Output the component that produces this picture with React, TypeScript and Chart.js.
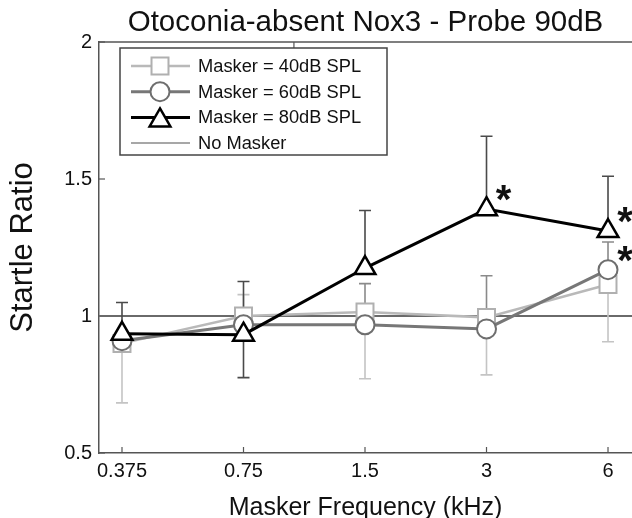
import React, { useEffect, useRef } from 'react';
import { Chart, registerables } from 'chart.js';

Chart.register(...registerables);

// ---- data ----
const freqs = [0.375, 0.75, 1.5, 3, 6];
const freqLabels = ['0.375', '0.75', '1.5', '3', '6'];
const yTicks = [0.5, 1, 1.5, 2];
const topTicks = [1];
const seriesLabels = ['Masker = 40dB SPL', 'Masker = 60dB SPL', 'Masker = 80dB SPL'];
const noMaskerLabel = 'No Masker';
const noMaskerLevel = 1;

const masker40 = [0.9, 1.0, 1.015, 0.995, 1.115];
const masker60 = [0.91, 0.968, 0.968, 0.953, 1.169];
const masker80 = [0.935, 0.932, 1.175, 1.39, 1.31];

// error bar end values (null = not drawn in that direction)
const err40Up = [null, 1.078, null, null, null];
const err40Down = [0.683, null, 0.771, 0.785, 0.906];
const err60Up = [null, null, 1.118, 1.147, 1.27];
const err60Down = [null, null, null, null, null];
const err80Up = [1.049, 1.126, 1.385, 1.656, 1.51];
const err80Down = [null, 0.775, null, null, null];

// significance markers
const sig40 = [false, false, false, false, false];
const sig60 = [false, false, false, false, true];
const sig80 = [false, false, false, true, true];

const X_MIN = 0.3289;
const X_MAX = 6.88;

const FONT = "'Liberation Sans', Arial, Helvetica, sans-serif";

const styles = [
  { line: '#b9b9b9', lw: 2.5, mark: '#b0b0b0', mw: 2, shape: 'rect', r: 12, err: '#c4c4c4' },
  { line: '#777777', lw: 3, mark: '#6e6e6e', mw: 2, shape: 'circle', r: 9.5, err: '#8a8a8a' },
  { line: '#000000', lw: 3, mark: '#000000', mw: 2.5, shape: 'triangle', r: 12, err: '#4a4a4a' },
];

const seriesValues = [masker40, masker60, masker80];
const errUp = [err40Up, err60Up, err80Up];
const errDown = [err40Down, err60Down, err80Down];
const sigs = [sig40, sig60, sig80];

function drawMarker(ctx: CanvasRenderingContext2D, shape: string, x: number, y: number, r: number) {
  ctx.beginPath();
  if (shape === 'rect') {
    const s = Math.SQRT1_2 * r;
    ctx.rect(x - s, y - s, 2 * s, 2 * s);
  } else if (shape === 'circle') {
    ctx.arc(x, y, r, 0, Math.PI * 2);
  } else {
    let rad = 0;
    ctx.moveTo(x + Math.sin(rad) * r, y - Math.cos(rad) * r);
    rad += (2 * Math.PI) / 3;
    ctx.lineTo(x + Math.sin(rad) * r, y - Math.cos(rad) * r);
    rad += (2 * Math.PI) / 3;
    ctx.lineTo(x + Math.sin(rad) * r, y - Math.cos(rad) * r);
    ctx.closePath();
  }
  ctx.fill();
  ctx.stroke();
}

const decorPlugin = {
  id: 'decor',
  beforeDatasetsDraw(chart: any) {
    const { ctx, chartArea: a, scales } = chart;
    const xs = scales.x;
    const ys = scales.y;
    ctx.save();
    // top frame line
    ctx.strokeStyle = '#555';
    ctx.lineWidth = 1.5;
    ctx.beginPath();
    ctx.moveTo(a.left, a.top);
    ctx.lineTo(a.right, a.top);
    ctx.stroke();
    // inward ticks
    ctx.lineWidth = 1.2;
    freqs.forEach((f) => {
      const px = xs.getPixelForValue(f);
      ctx.beginPath();
      ctx.moveTo(px, a.bottom);
      ctx.lineTo(px, a.bottom - 6);
      ctx.stroke();
    });
    topTicks.forEach((f) => {
      const px = xs.getPixelForValue(f);
      ctx.beginPath();
      ctx.moveTo(px, a.top);
      ctx.lineTo(px, a.top + 6);
      ctx.stroke();
    });
    yTicks.forEach((v) => {
      const py = ys.getPixelForValue(v);
      ctx.beginPath();
      ctx.moveTo(a.left, py);
      ctx.lineTo(a.left + 6, py);
      ctx.stroke();
    });
    // no masker reference line
    const ny = ys.getPixelForValue(noMaskerLevel);
    ctx.strokeStyle = '#6a6a6a';
    ctx.lineWidth = 1.8;
    ctx.beginPath();
    ctx.moveTo(a.left, ny);
    ctx.lineTo(a.right, ny);
    ctx.stroke();
    // error bars
    [0, 1, 2].forEach((s) => {
      ctx.strokeStyle = styles[s].err;
      ctx.lineWidth = 1.6;
      freqs.forEach((f, i) => {
        const px = xs.getPixelForValue(f);
        const py = ys.getPixelForValue(seriesValues[s][i]);
        [errUp[s][i], errDown[s][i]].forEach((e) => {
          if (e === null || e === undefined) return;
          const ey = ys.getPixelForValue(e);
          ctx.beginPath();
          ctx.moveTo(px, py);
          ctx.lineTo(px, ey);
          ctx.moveTo(px - 6, ey);
          ctx.lineTo(px + 6, ey);
          ctx.stroke();
        });
      });
    });
    ctx.restore();
  },
  afterDatasetsDraw(chart: any) {
    const { ctx, chartArea: a, scales } = chart;
    const xs = scales.x;
    const ys = scales.y;
    ctx.save();
    // asterisks
    ctx.fillStyle = '#111';
    ctx.font = `bold 40px ${FONT}`;
    ctx.textAlign = 'center';
    ctx.textBaseline = 'alphabetic';
    [0, 1, 2].forEach((s) => {
      freqs.forEach((f, i) => {
        if (!sigs[s][i]) return;
        const px = xs.getPixelForValue(f);
        const py = ys.getPixelForValue(seriesValues[s][i]);
        ctx.fillText('*', px + 17, py + 4);
      });
    });
    // legend
    const lx = a.left + 21;
    const ly = a.top + 6;
    const lw = 267;
    const lh = 107;
    ctx.fillStyle = '#fff';
    ctx.fillRect(lx, ly, lw, lh);
    ctx.strokeStyle = '#444';
    ctx.lineWidth = 1.5;
    ctx.strokeRect(lx, ly, lw, lh);
    const labels = [...seriesLabels, noMaskerLabel];
    ctx.font = `18.3px ${FONT}`;
    ctx.textAlign = 'left';
    ctx.textBaseline = 'middle';
    labels.forEach((lab, i) => {
      const cy = ly + 18 + i * 25.7;
      const x0 = lx + 11;
      const x1 = lx + 70;
      const cx = lx + 40;
      ctx.beginPath();
      if (i < 3) {
        ctx.strokeStyle = styles[i].line;
        ctx.lineWidth = styles[i].lw;
      } else {
        ctx.strokeStyle = '#8a8a8a';
        ctx.lineWidth = 1.5;
      }
      ctx.moveTo(x0, cy);
      ctx.lineTo(x1, cy);
      ctx.stroke();
      if (i < 3) {
        ctx.fillStyle = '#fff';
        ctx.strokeStyle = styles[i].mark;
        ctx.lineWidth = styles[i].mw;
        drawMarker(ctx, styles[i].shape, cx, i === 2 ? cy + 3 : cy, styles[i].r);
      }
      ctx.fillStyle = '#111';
      ctx.fillText(lab, lx + 78, cy + 1);
    });
    ctx.restore();
  },
};

export default function App() {
  const ref = useRef<HTMLCanvasElement | null>(null);
  useEffect(() => {
    if (!ref.current) return;
    Chart.defaults.font.family = FONT;
    Chart.defaults.color = '#222';
    const datasets = [0, 1, 2].map((s) => ({
      label: seriesLabels[s],
      data: freqs.map((f, i) => ({ x: f, y: seriesValues[s][i] })),
      borderColor: styles[s].line,
      borderWidth: styles[s].lw,
      pointStyle: styles[s].shape,
      pointRadius: styles[s].r,
      pointBorderColor: styles[s].mark,
      pointBackgroundColor: '#ffffff',
      pointBorderWidth: styles[s].mw,
      tension: 0,
      order: 2 - s,
      clip: false,
    }));
    const chart = new Chart(ref.current, {
      type: 'line',
      data: { datasets },
      options: {
        responsive: false,
        animation: false,
        devicePixelRatio: 1,
        layout: { autoPadding: false, padding: { left: 0, right: 0, top: 0, bottom: 0 } },
        plugins: {
          legend: { display: false },
          tooltip: { enabled: false },
          title: {
            display: true,
            fullSize: false,
            text: 'Otoconia-absent Nox3 - Probe 90dB',
            color: '#111',
            font: { size: 29.5, weight: 'normal', family: FONT, lineHeight: 1.2 },
            padding: { top: 5, bottom: 1.6 },
          },
        },
        scales: {
          x: {
            type: 'logarithmic',
            bounds: 'data',
            min: X_MIN,
            max: X_MAX,
            afterBuildTicks: (axis: any) => {
              axis.ticks = freqs.map((v) => ({ value: v }));
              axis.min = X_MIN;
              axis.max = X_MAX;
            },
            ticks: {
              autoSkip: false,
              maxRotation: 0,
              padding: 6,
              color: '#111',
              font: { size: 20, family: FONT, lineHeight: 1.2 },
              callback: (v: any) => {
                const i = freqs.indexOf(Number(v));
                return i >= 0 ? freqLabels[i] : '';
              },
            },
            grid: { display: false, drawTicks: false },
            border: { display: true, color: '#555', width: 1.5 },
            title: {
              display: true,
              text: 'Masker Frequency (kHz)',
              color: '#111',
              font: { size: 25, family: FONT, lineHeight: 0.76 },
              padding: { top: 10, bottom: 0 },
            },
          },
          y: {
            type: 'linear',
            min: 0.5,
            max: 2,
            afterBuildTicks: (axis: any) => {
              axis.ticks = yTicks.map((v) => ({ value: v }));
            },
            ticks: {
              padding: 7,
              color: '#111',
              font: { size: 20, family: FONT, lineHeight: 1.2 },
              callback: (v: any) => String(v),
            },
            grid: { display: false, drawTicks: false },
            border: { display: true, color: '#555', width: 1.5 },
            title: {
              display: true,
              text: 'Startle Ratio',
              color: '#111',
              font: { size: 31, family: FONT, lineHeight: 1.2 },
              padding: { top: 4.4, bottom: 15.6 },
            },
          },
        },
      },
      plugins: [decorPlugin],
    } as any);
    return () => chart.destroy();
  }, []);
  return (
    <div style={{ position: 'fixed', left: 0, top: 0, width: 632, height: 518, background: '#fff' }}>
      <canvas ref={ref} width={632} height={518} style={{ display: 'block' }} />
    </div>
  );
}
